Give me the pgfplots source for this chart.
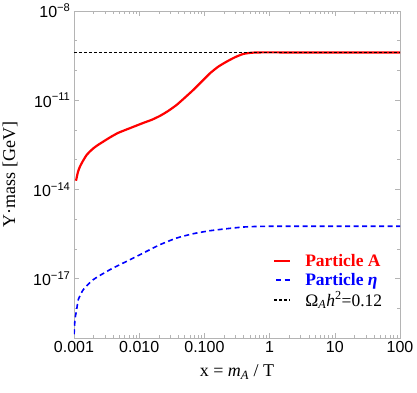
\documentclass[border=0pt]{standalone}
\usepackage{fontspec}
\setmainfont{Liberation Serif}
\setsansfont{Liberation Sans}
\usepackage{pgfplots}
\pgfplotsset{compat=1.18}
\definecolor{frame}{RGB}{180,180,180}
\begin{document}
\begin{tikzpicture}
\begin{loglogaxis}[
  at={(0,0)}, anchor=south west,
  scale only axis,
  width=326pt, height=327pt,
  xmin=0.001, xmax=100,
  ymin=1e-19, ymax=1e-8,
  xtick={0.001,0.01,0.1,1,10,100},
  xticklabels={0.001,0.010,0.100,1,10,100},
  ytick={1e-8,1e-11,1e-14,1e-17},
  yticklabels={10\textsuperscript{−8},10\textsuperscript{−11},10\textsuperscript{−14},10\textsuperscript{−17}},
  minor ytick={1e-9,1e-10,1e-12,1e-13,1e-15,1e-16,1e-18,1e-19},
  tick label style={font=\sffamily\fontsize{16}{18}\selectfont},
  axis line style={frame, line width=0.9pt},
  tick style={frame, line width=0.6pt},
  major tick length=5pt, minor tick length=3pt,
  xlabel={x = \textit{m}\textsubscript{\textit{A}} / T},
  ylabel={Y·mass [GeV]},
  label style={font=\fontsize{18}{20}\selectfont},
  xlabel style={at={(axis description cs:0.5,-0.1183)}, anchor=base},
  ylabel style={at={(axis description cs:-0.196,0.5)}, anchor=center},
  legend cell align=left,
  legend image code/.code={\draw[#1] (0pt,0pt) -- (16pt,0pt);},
  legend style={draw=none, fill=none, inner sep=0pt, at={(0.61,0.262)}, anchor=north west,
    font=\fontsize{17.5}{20}\selectfont, row sep=1pt},
]
\addplot[red, line width=2.2pt, smooth, tension=0.35] coordinates {
(1.074e-3,1.95e-14) (1.151e-3,3.89e-14) (1.236e-3,5.89e-14) (1.374e-3,9.12e-14)
(1.567e-3,1.445e-13) (1.854e-3,2.11e-13) (2.228e-3,2.92e-13) (3.565e-3,5.6e-13)
(4.786e-3,8.0e-13) (7.23e-3,1.148e-12) (1.156e-2,1.72e-12)
(1.552e-2,2.183e-12) (2.084e-2,2.97e-12) (2.799e-2,4.375e-12) (3.758e-2,6.97e-12)
(5.035e-2,1.227e-11) (6.761e-2,2.218e-11) (9.078e-2,4.227e-11) (0.1219,8.05e-11)
(0.1637,1.349e-10) (0.2198,1.986e-10) (0.2944,2.78e-10) (0.3954,3.60e-10)
(0.5309,3.95e-10) (0.7129,4.05e-10) (2,4.05e-10) (100,4.05e-10)
};
\addlegendentry{\hspace*{12pt}\textcolor{red}{\textbf{Particle A}}}
\addplot[blue, line width=1.6pt, dash pattern=on 5pt off 3.5pt, dash phase=-2pt, smooth, tension=0.35] coordinates {
(1.0e-3,1.148e-19) (1.035e-3,4.17e-19) (1.099e-3,9.04e-19) (1.164e-3,1.959e-18)
(1.390e-3,4.25e-18) (1.977e-3,9.20e-18) (3.565e-3,1.995e-17) (6.427e-3,3.80e-17)
(1.156e-2,7.24e-17) (2.084e-2,1.380e-16) (3.758e-2,2.31e-16) (6.761e-2,3.23e-16)
(0.1219,4.07e-16) (0.2198,4.75e-16) (0.3954,5.41e-16) (0.7129,5.70e-16)
(2,5.75e-16) (100,5.75e-16)
};
\addlegendentry{\hspace*{12pt}\textcolor{blue}{\textbf{Particle \textit{η}}}}
\addplot[black, line width=1.6pt, dash pattern=on 2.8pt off 2.2pt] coordinates {
(0.001,4.0e-10) (100,4.0e-10)
};
\addlegendentry{\hspace*{12pt}Ω\textsubscript{\textit{A}}\textit{h}\textsuperscript{2}=0.12}
\end{loglogaxis}
\pgfresetboundingbox
\useasboundingbox (-74pt,-54pt) rectangle (343pt,338pt);
\end{tikzpicture}
\end{document}
